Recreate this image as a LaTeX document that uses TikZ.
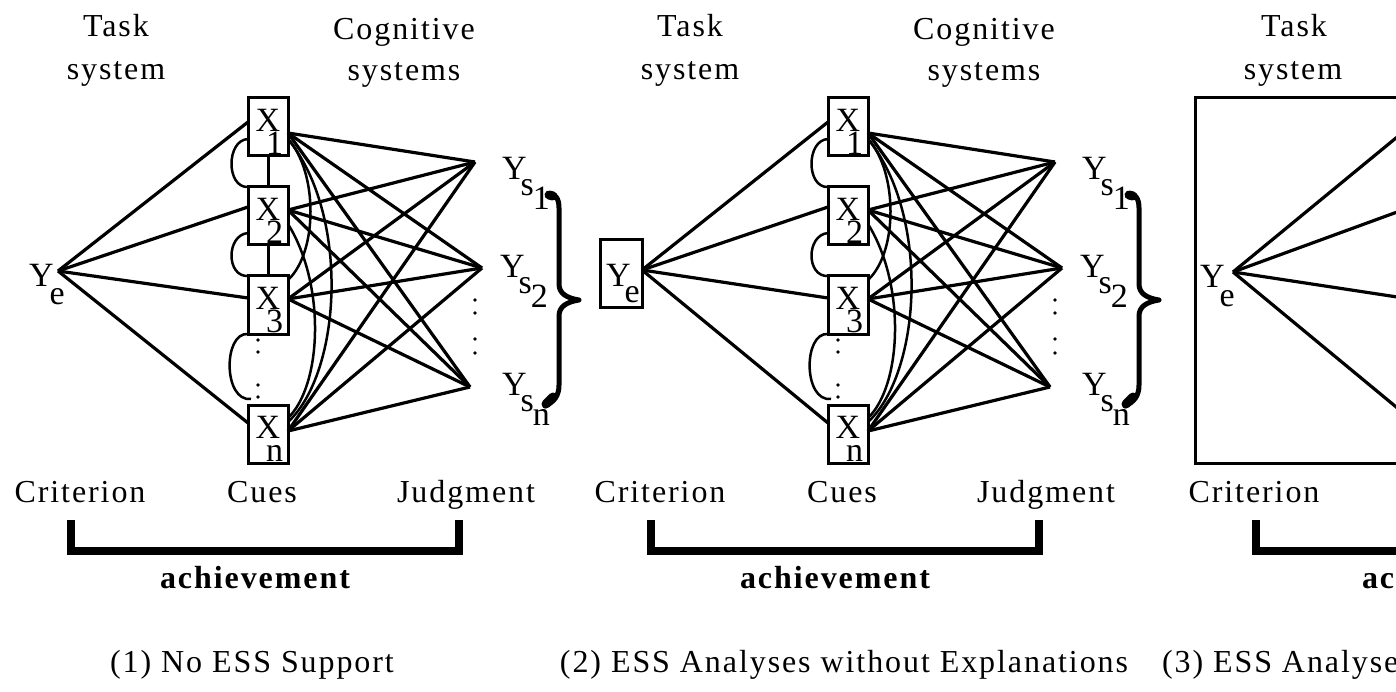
\documentclass[tikz,border=0pt]{standalone}
\usepackage{fontspec}
\setmainfont{Liberation Serif}[LetterSpace=6]
\newcommand{\basefont}{\fontsize{32}{38}\selectfont}
\newcommand{\symfont}{\fontsize{34}{40}\selectfont}
\tikzset{
  cue/.style={draw, line width=3pt, minimum width=40pt, minimum height=58pt,
    inner sep=0pt, outer sep=0pt, align=center, font=\fontsize{34}{23}\selectfont},
  link/.style={line width=3.2pt},
  cuearc/.style={line width=2.5pt},
  dotmark/.style={fill, radius=1.9pt},
  txt/.style={anchor=base, inner sep=0pt, outer sep=0pt},
  txtw/.style={anchor=base west, inner sep=0pt, outer sep=0pt},
  symw/.style={anchor=base west, inner sep=0pt, outer sep=0pt, font=\symfont},
  boldtxt/.style={font=\basefont\bfseries},
  bracketline/.style={line width=8pt, miter limit=10},
  bracestroke/.style={line width=5pt, line cap=round, line join=round},
}
% cue box text: X over its index
\newcommand{\cuetext}[1]{\rule{0pt}{32pt}X\\\hspace*{13pt}#1}
% Ys label: Y with subscript s and sub-subscript index
\newcommand{\judglabel}[1]{Y\kern-6pt\raisebox{-16pt}{s\kern-1pt\raisebox{-14pt}{#1}}}
% One lens model: cues, judgments, links, inter-cue arcs, brace and bracket
% #1 = horizontal centre of the "Task system" heading
\newcommand{\drawlens}[1]{%
  \node[cue] (x1) at (268,127) {\cuetext{1}};
  \node[cue] (x2) at (268,216) {\cuetext{2}};
  \node[cue] (x3) at (268,305) {\cuetext{3}};
  \node[cue] (xn) at (268,434) {\cuetext{n}};
  \coordinate (ys1) at (475,162);
  \coordinate (ys2) at (482,268);
  \coordinate (ysn) at (470,387);
  % criterion to cues
  \foreach \c/\d in {x1/5,x2/9,x3/7,xn/11}
    \draw[link] (ye) -- ([yshift=\d pt]\c.west);
  % cues to judgments
  \foreach \c/\d in {x1/-6,x2/6,x3/6,xn/3}
    \foreach \j in {ys1,ys2,ysn}
      \draw[link] ([yshift=\d pt]\c.east) -- (\j);
  % inter-cue correlations, left side
  \draw[cuearc] ([yshift=-12pt]x1.west) .. controls (226,140) and (226,188) .. (x2.north west);
  \draw[cuearc] ([yshift=-17pt]x2.west) .. controls (226,235) and (226,277) .. (x3.north west);
  \draw[cuearc] (x3.south west) .. controls (223,332) and (223,402) .. ([xshift=3pt,yshift=6pt]xn.north west);
  % inter-cue correlations, right side
  \draw[cuearc] ([yshift=-12pt]x1.east) .. controls (318,172) and (318,252) .. ([yshift=-4pt]x3.north east);
  \draw[cuearc] ([yshift=-12pt]x1.east) .. controls (350,215) and (342,372) .. ([yshift=12pt]xn.east);
  \draw[cuearc] ([yshift=-8pt]x2.east) .. controls (326,285) and (322,385) .. ([yshift=16pt]xn.east);
  % omitted cues and judgments
  \foreach \y in {340,352,385,397} \fill (258,\y) circle[dotmark];
  \foreach \y in {300,313,339,353} \fill (475,\y) circle[dotmark];
  % judgment labels
  \node[symw] (ls1) at (502,180) {\judglabel{1}};
  \node[symw] (ls2) at (500,278) {\judglabel{2}};
  \node[symw] (lsn) at (502,395) {\judglabel{n}};
  % brace gathering the judgments
  \draw[bracestroke] (548,194) .. controls (555,193) and (559,198) .. (559,208)
    -- (559,284) .. controls (559,293) and (566,298) .. (579,300)
    .. controls (566,302) and (559,307) .. (559,316)
    -- (559,385) .. controls (559,396) and (554,402) .. (545,406);
  \draw[line width=9pt, line cap=round] (549,195) -- (553,196);
  \draw[line width=9pt, line cap=round] (546,404) -- (553,397);
  % headings and captions
  \node[txt] (task) at (#1,37) {Task};
  \node[txt] (tasksys) at (#1,80) {system};
  \node[txt] (cog) at (404,40) {Cognitive};
  \node[txt] (cogsys) at (404,81) {systems};
  \node[txt] (crit) at (80,502) {Criterion};
  \node[txt] (cues) at (262,502) {Cues};
  \node[txt] (judg) at (466,502) {Judgment};
  \node[txt, boldtxt] (ach) at (255,588) {achievement};
  \coordinate (brl) at (71,520);
  \coordinate (brr) at (459,520);
  \draw[bracketline] (brl) -- (71,551) -- (459,551) -- (brr);
}
\begin{document}
\begin{tikzpicture}[x=1pt, y=-1pt, font=\basefont]
\useasboundingbox (0,0) rectangle (1396,692);
\clip (0,0) rectangle (1396,692);
\fill[white] (0,0) rectangle (1396,692);

% (1) no support: plain criterion
\begin{scope}[name prefix=a-]
  \coordinate (ye) at (58,271);
  \node[symw] (yel) at (29,287) {Y\kern-4pt\raisebox{-18pt}{e}};
  \drawlens{116}
  \draw[line width=3pt] (x1.south) -- (x2.north);
  \draw[line width=3pt] (x2.south) -- (x3.north);
  \node[txt] (cap) at (252,672) {(1) No ESS Support};
\end{scope}

% (2) analyses without explanations: boxed criterion
\begin{scope}[shift={(580,0)}, name prefix=b-]
  \node[draw, line width=3pt, minimum width=42pt, minimum height=68pt,
        inner sep=0pt, outer sep=0pt] (yebox) at (41,274) {};
  \coordinate (ye) at ([yshift=4pt]yebox.east);
  \node[symw] (yel) at (26,287) {Y\kern-6pt\raisebox{-16pt}{e}};
  \drawlens{110}
  \node[txt] (cap) at (264,672) {(2) ESS Analyses without Explanations};
\end{scope}

% (3) analyses with explanations: boxed task system
\begin{scope}[name prefix=c-]
  \node[txt] (task) at (1294,37) {Task};
  \node[txt] (tasksys) at (1293,80) {system};
  \node[draw, line width=3pt, minimum width=260pt, minimum height=365pt,
        inner sep=0pt, outer sep=0pt, anchor=north west] (taskbox) at (1195,98) {};
  \coordinate (ye) at (1233,272);
  \node[symw] (yel) at (1200,288) {Y\kern-5pt\raisebox{-18pt}{e}};
  \coordinate (x1) at (1430,110);
  \coordinate (x2) at (1430,200);
  \coordinate (x3) at (1430,302);
  \coordinate (xn) at (1430,435);
  \foreach \c in {x1,x2,x3,xn} \draw[link] (ye) -- (\c);
  \node[txt] (crit) at (1254,502) {Criterion};
  \coordinate (brl) at (1256,520);
  \draw[bracketline] (brl) -- (1256,551) -- (1440,551);
  \node[txtw, boldtxt] (ach) at (1362,588) {achievement};
  \node[txtw] (cap) at (1162,672) {(3) ESS Analyses};
\end{scope}
\end{tikzpicture}
\end{document}
